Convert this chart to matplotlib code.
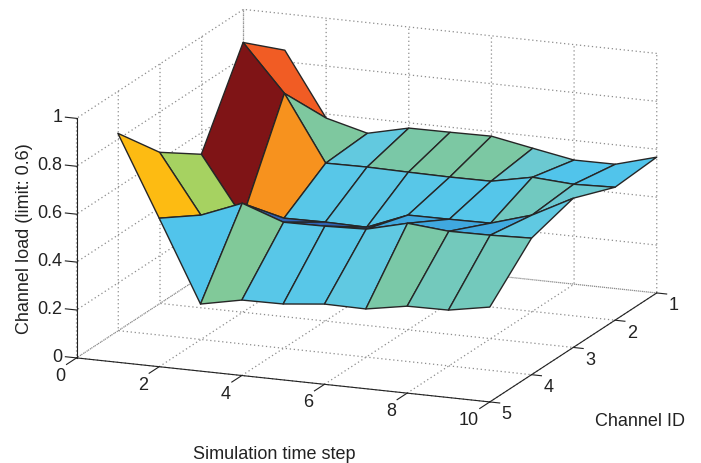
import numpy as np
import matplotlib
matplotlib.use('Agg')
import matplotlib.pyplot as plt
from matplotlib.colors import LinearSegmentedColormap, Normalize
from mpl_toolkits.mplot3d import proj3d

plt.rcParams['font.family'] = ['Liberation Sans', 'DejaVu Sans']

time_steps = [1, 2, 3, 4, 5, 6, 7, 8, 9, 10]
channels = [1, 2, 3, 4, 5]

# channel load, one row per channel
load_ch1 = [.848, .583, .538, .578, .579, .581, .549, .518, .519, .567]
load_ch2 = [.994, .800, .527, .529, .526, .524, .525, .560, .549, .555]
load_ch3 = [.641, .397, .411, .413, .410, .479, .480, .482, .534, .623]
load_ch4 = [.763, .519, .587, .526, .528, .534, .577, .562, .564, .570]
load_ch5 = [.956, .620, .280, .315, .317, .335, .333, .363, .365, .396]

x_ticks = [0, 2, 4, 6, 8, 10]
y_ticks = [1, 2, 3, 4, 5]
z_ticks = [0, 0.2, 0.4, 0.6, 0.8, 1]
z_ticklabels = ['0', '0.2', '0.4', '0.6', '0.8', '1']

# jet as it came out of the print colour conversion
cmap_stops = [.28, .41, .48, .52, .535, .55, .58, .64, .76, .80, .85, .994]
cmap_colors = ['#2b3f9e', '#2f62b5', '#40a9e0', '#52c5ec', '#60c9e2', '#6cc9cf', '#7cc8a2',
               '#a5d262', '#fec010', '#f7931e', '#f15a24', '#7f1416']

TEXT = '#222222'
FS = 13

vmin, vmax = cmap_stops[0], cmap_stops[-1]
cmap = LinearSegmentedColormap.from_list(
    'load', [((s - vmin) / (vmax - vmin), c) for s, c in zip(cmap_stops, cmap_colors)])

X, Y = np.meshgrid(time_steps, channels)
Z = np.array([load_ch1, load_ch2, load_ch3, load_ch4, load_ch5])
face_colors = cmap(Normalize(vmin, vmax)(Z))

fig = plt.figure(figsize=(7.01, 4.64), dpi=100)
ax = fig.add_axes([20.8 / 701, 39.2 / 464, 680.2 / 701, 424.8 / 464], projection='3d')
ax.set_proj_type('ortho')
ax.view_init(elev=15.29, azim=-68)
ax.set_box_aspect((446, 446, 248.5), zoom=1.5482)

surf = ax.plot_surface(X, Y, Z, rstride=1, cstride=1, facecolors=face_colors,
                       edgecolor='#262626', linewidth=1.0, shade=False, antialiased=True)
surf.set_clip_on(False)

ax.set_xlim(0, 10, view_margin=0)
ax.set_ylim(5, 1, view_margin=0)
ax.set_zlim(0, 1, view_margin=0)
ax.set_xticks(x_ticks)
ax.set_yticks(y_ticks)
ax.set_zticks(z_ticks)
ax.set_xticklabels([])
ax.set_yticklabels([])
ax.set_zticklabels([])

for axis in (ax.xaxis, ax.yaxis, ax.zaxis):
    axis.set_pane_color((1, 1, 1, 0))
    axis.pane.set_edgecolor('none')
    axis.line.set_color(TEXT)
    axis.line.set_linewidth(0.8)
    axis._axinfo['grid'].update(color='#8c8c8c', linestyle=(0, (1, 2.2)), linewidth=0.9)
    axis._axinfo['tick'].update(inward_factor=0.0, outward_factor=0.0)
ax.zaxis.line.set_color('none')


def axis_line(xs, ys, zs):
    ax.plot(xs, ys, zs, color=TEXT, linewidth=0.8, clip_on=False)


def label(x, y, z, s, **kw):
    # project by hand so the label is a plain 2d text
    px, py, _ = proj3d.proj_transform(x, y, z, ax.get_proj())
    ax.text2D(px, py, s, transform=ax.transData, fontsize=FS, va='center',
              color=TEXT, clip_on=False, **kw)


# z axis sits on the left edge and ticks point out, mplot3d won't do this on its own
axis_line([0, 0], [5, 5], [0, 1])
for t in x_ticks:
    axis_line([t, t], [5, 5.24], [0, 0])
    label(t, 5.262, -0.044, str(t), ha='right')
for c in y_ticks:
    axis_line([10, 10.24], [c, c], [0, 0])
    label(10.41, c, -0.0425, str(c), ha='center')
for z, lab in zip(z_ticks, z_ticklabels):
    axis_line([0, -0.27], [5, 5], [z, z])
    label(-0.34, 5, z, lab, ha='right')

fig.text(274 / 701, 1 - 455 / 464, 'Simulation time step', fontsize=FS, ha='center', va='center', color=TEXT)
fig.text(640 / 701, 1 - 422 / 464, 'Channel ID', fontsize=FS, ha='center', va='center', color=TEXT)
fig.text(25 / 701, 1 - 239 / 464, 'Channel load (limit: 0.6)', fontsize=FS, rotation=90,
         ha='center', va='center', color=TEXT)

fig.savefig('out.png', dpi=100)
